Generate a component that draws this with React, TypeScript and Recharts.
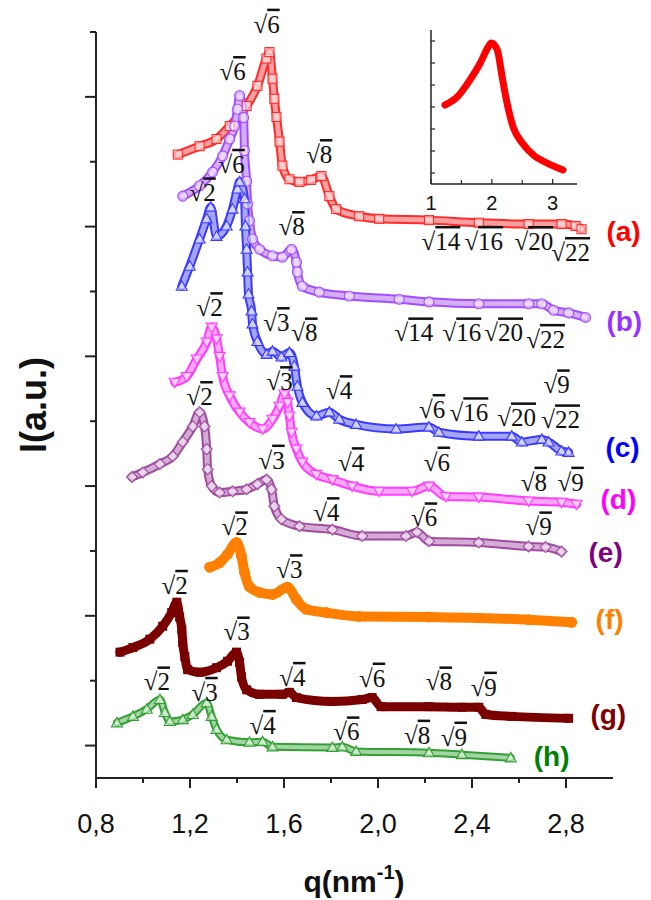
import React from "react";
import { ComposedChart, LineChart, Line, Scatter, XAxis, YAxis } from "recharts";

type Pt = [number, number];

// axes
const xTicks = [0.8, 1.0, 1.2, 1.4, 1.6, 1.8, 2.0, 2.2, 2.4, 2.6, 2.8];
const xTickLabels = ["0,8", "", "1,2", "", "1,6", "", "2,0", "", "2,4", "", "2,8"];
const yTicks = [0, 1, 2, 3, 4, 5, 6, 7, 8, 9, 10, 11];

// SAXS curves, q (nm-1) vs shifted intensity
const seriesA: Pt[] = [
  [1.148, 9.11], [1.241, 9.24], [1.313, 9.35], [1.369, 9.55], [1.441, 9.86], [1.487, 10.17],
  [1.525, 10.59], [1.538, 10.69], [1.551, 10.28], [1.559, 9.97], [1.568, 9.69], [1.581, 9.31],
  [1.593, 8.94], [1.623, 8.73], [1.666, 8.69], [1.716, 8.72], [1.759, 8.78], [1.793, 8.47],
  [1.822, 8.27], [1.92, 8.16], [2.005, 8.12], [2.217, 8.1], [2.429, 8.06], [2.641, 8.04],
  [2.781, 8.04], [2.841, 8.01], [2.866, 7.96],
];
const seriesB: Pt[] = [
  [1.169, 8.47], [1.241, 8.63], [1.296, 8.84], [1.339, 9.09], [1.369, 9.35], [1.39, 9.55],
  [1.402, 9.81], [1.411, 10.02], [1.428, 9.68], [1.432, 9.17], [1.441, 8.7], [1.445, 8.35],
  [1.453, 8.09], [1.466, 7.81], [1.496, 7.65], [1.551, 7.55], [1.593, 7.53], [1.632, 7.65],
  [1.653, 7.45], [1.657, 7.3], [1.678, 7.08], [1.75, 6.99], [1.878, 6.93], [2.09, 6.88],
  [2.217, 6.84], [2.429, 6.81], [2.641, 6.81], [2.697, 6.81], [2.747, 6.71], [2.811, 6.67],
  [2.883, 6.6],
];
const seriesC: Pt[] = [
  [1.165, 7.08], [1.199, 7.39], [1.241, 7.81], [1.271, 8.12], [1.288, 8.3], [1.313, 7.85],
  [1.356, 8.01], [1.381, 8.27], [1.402, 8.58], [1.411, 8.69], [1.432, 8.43], [1.436, 8.01],
  [1.441, 7.65], [1.445, 7.3], [1.449, 6.96], [1.462, 6.7], [1.466, 6.5], [1.487, 6.23],
  [1.526, 6.03], [1.551, 6.08], [1.589, 5.99], [1.623, 6.06], [1.644, 5.85], [1.657, 5.54],
  [1.678, 5.29], [1.738, 5.08], [1.793, 5.14], [1.835, 5.03], [1.907, 4.95], [2.077, 4.88],
  [2.217, 4.91], [2.259, 4.83], [2.429, 4.77], [2.569, 4.77], [2.612, 4.68], [2.697, 4.72],
  [2.726, 4.68], [2.781, 4.54], [2.811, 4.52],
];
const seriesD: Pt[] = [
  [1.135, 5.6], [1.186, 5.69], [1.229, 5.96], [1.271, 6.22], [1.292, 6.45], [1.313, 6.27],
  [1.326, 6.0], [1.339, 5.69], [1.369, 5.39], [1.411, 5.14], [1.453, 4.98], [1.509, 4.88],
  [1.551, 5.03], [1.581, 5.23], [1.602, 5.42], [1.615, 5.29], [1.623, 5.08], [1.632, 4.83],
  [1.653, 4.57], [1.678, 4.37], [1.738, 4.18], [1.806, 4.1], [1.89, 4.0], [2.005, 3.92],
  [2.145, 3.92], [2.217, 4.0], [2.289, 3.84], [2.429, 3.83], [2.641, 3.77], [2.781, 3.75],
  [2.845, 3.72],
];
const seriesE: Pt[] = [
  [0.953, 4.14], [0.999, 4.21], [1.072, 4.34], [1.127, 4.46], [1.169, 4.68], [1.212, 4.92],
  [1.241, 5.14], [1.262, 4.92], [1.271, 4.57], [1.275, 4.26], [1.292, 4.0], [1.326, 3.9],
  [1.381, 3.92], [1.441, 3.95], [1.487, 4.03], [1.526, 4.1], [1.547, 3.95], [1.559, 3.69],
  [1.589, 3.49], [1.666, 3.38], [1.806, 3.33], [1.933, 3.23], [2.119, 3.23], [2.166, 3.29],
  [2.217, 3.15], [2.429, 3.13], [2.641, 3.07], [2.713, 3.06], [2.781, 2.99],
];
const seriesF: Pt[] = [
  [1.284, 2.75], [1.326, 2.82], [1.36, 2.95], [1.398, 3.13], [1.419, 2.92], [1.432, 2.67],
  [1.453, 2.45], [1.496, 2.36], [1.551, 2.33], [1.615, 2.44], [1.653, 2.25], [1.695, 2.1],
  [1.78, 2.05], [1.92, 1.99], [2.217, 1.98], [2.641, 1.94], [2.824, 1.9],
];
const seriesG: Pt[] = [
  [0.902, 1.44], [0.957, 1.51], [1.029, 1.64], [1.084, 1.84], [1.122, 2.05], [1.144, 2.21],
  [1.156, 1.98], [1.165, 1.79], [1.169, 1.59], [1.178, 1.37], [1.19, 1.17], [1.241, 1.13],
  [1.313, 1.2], [1.36, 1.3], [1.398, 1.44], [1.411, 1.28], [1.419, 1.06], [1.441, 0.86],
  [1.496, 0.79], [1.593, 0.79], [1.623, 0.82], [1.653, 0.74], [1.806, 0.68], [1.933, 0.71],
  [1.975, 0.74], [2.013, 0.6], [2.217, 0.6], [2.357, 0.59], [2.429, 0.59], [2.459, 0.48],
  [2.569, 0.45], [2.811, 0.42],
];
const seriesH: Pt[] = [
  [0.889, 0.35], [0.957, 0.45], [1.016, 0.56], [1.072, 0.71], [1.093, 0.51], [1.114, 0.37],
  [1.169, 0.4], [1.212, 0.48], [1.271, 0.66], [1.292, 0.45], [1.313, 0.25], [1.356, 0.09],
  [1.453, 0.05], [1.509, 0.06], [1.551, -0.02], [1.806, -0.03], [1.848, -0.02], [1.907, -0.09],
  [2.217, -0.11], [2.357, -0.14], [2.565, -0.19],
];

const seriesTags = ["(a)", "(b)", "(c)", "(d)", "(e)", "(f)", "(g)", "(h)"];
const tagPos: Pt[] = [
  [2.972, 7.92], [2.972, 6.54], [2.968, 4.6], [2.947, 3.8],
  [2.896, 2.98], [2.926, 1.94], [2.904, 0.48], [2.663, -0.17],
];

// peak index labels (sqrt of n), text baseline position
const rootLabels: [number, number, string][] = [
  [1.526, 10.99, "6"], [1.75, 8.98, "8"], [2.268, 7.64, "14"], [2.45, 7.64, "16"], [2.663, 7.64, "20"], [2.82, 7.47, "22"],
  [1.381, 10.26, "6"], [1.632, 7.87, "8"], [2.153, 6.23, "14"], [2.357, 6.23, "16"], [2.535, 6.23, "20"], [2.713, 6.13, "22"],
  [1.254, 8.39, "2"], [1.377, 8.83, "6"], [1.568, 6.39, "3"], [1.687, 6.23, "8"], [1.835, 5.34, "4"], [2.23, 5.05, "6"],
  [2.387, 5.0, "16"], [2.59, 4.92, "20"], [2.76, 5.43, "9"], [2.777, 4.89, "22"],
  [1.284, 6.62, "2"], [1.581, 5.48, "3"], [1.886, 4.23, "4"], [2.251, 4.24, "6"], [2.663, 3.93, "8"], [2.82, 3.93, "9"],
  [1.241, 5.25, "2"], [1.547, 4.27, "3"], [1.78, 3.46, "4"], [2.196, 3.38, "6"], [2.684, 3.24, "9"],
  [1.39, 3.24, "2"], [1.623, 2.58, "3"],
  [1.135, 2.34, "2"], [1.398, 1.62, "3"], [1.636, 0.92, "4"], [1.975, 0.91, "6"], [2.259, 0.85, "8"], [2.45, 0.77, "9"],
  [1.059, 0.85, "2"], [1.262, 0.69, "3"], [1.509, 0.18, "4"], [1.865, 0.08, "6"], [2.166, 0.03, "8"], [2.323, 0.0, "9"],
];

// inset
const insetXTicks = [1, 1.5, 2, 2.5, 3];
const insetXTickLabels = ["1", "", "2", "", "3"];
const insetYTicks = [0, 1, 2, 3, 4, 5, 6];
const insetCurve: Pt[] = [
  [1.23, 3.09], [1.43, 3.45], [1.64, 4.23], [1.81, 5.0], [1.94, 5.73], [1.99, 5.91], [2.09, 5.59],
  [2.17, 4.36], [2.25, 3.18], [2.35, 2.09], [2.5, 1.36], [2.68, 0.82], [2.91, 0.45], [3.17, 0.14],
];

const SANS = "'Liberation Sans', Arial, sans-serif";
const SERIF = "'Liberation Serif', 'Times New Roman', serif";
const AXIS = "#222";

const rows = (pts: Pt[]) => pts.map(([q, v]) => ({ q, v }));

const SERIES = [
  { id: "a", pts: seriesA, color: "#ff2b2b", tag: "#ff0000", marker: "square", w: 9 },
  { id: "b", pts: seriesB, color: "#a24dff", tag: "#9933ff", marker: "circle", w: 9 },
  { id: "c", pts: seriesC, color: "#3a3aff", tag: "#0000ff", marker: "tri", w: 9 },
  { id: "d", pts: seriesD, color: "#ff3cff", tag: "#ff00ff", marker: "triDown", w: 9 },
  { id: "e", pts: seriesE, color: "#a04aa0", tag: "#800080", marker: "diamond", w: 9 },
  { id: "f", pts: seriesF, color: "#ff8000", tag: "#ff8000", marker: "dot", w: 10 },
  { id: "g", pts: seriesG, color: "#7a0000", tag: "#800000", marker: "fsquare", w: 9 },
  { id: "h", pts: seriesH, color: "#33a033", tag: "#008000", marker: "tri", w: 8 },
];

function Marker({ cx, cy, kind, color }: { cx: number; cy: number; kind: string; color: string }) {
  if (cx == null || cy == null) return null;
  const open = { fill: "#fff", fillOpacity: 0.5, stroke: color, strokeWidth: 1.1 };
  switch (kind) {
    case "square":
      return <rect x={cx - 4.5} y={cy - 4.5} width={9} height={9} {...open} />;
    case "circle":
      return <circle cx={cx} cy={cy} r={5} {...open} />;
    case "tri":
      return <path d={`M${cx},${cy - 5.5}L${cx + 5.5},${cy + 4}L${cx - 5.5},${cy + 4}Z`} {...open} />;
    case "triDown":
      return <path d={`M${cx},${cy + 5.5}L${cx + 5.5},${cy - 4}L${cx - 5.5},${cy - 4}Z`} {...open} />;
    case "diamond":
      return <path d={`M${cx},${cy - 5.5}L${cx + 5.5},${cy}L${cx},${cy + 5.5}L${cx - 5.5},${cy}Z`} {...open} />;
    case "dot":
      return <circle cx={cx} cy={cy} r={5.5} fill={color} />;
    default:
      return <rect x={cx - 4.5} y={cy - 4.5} width={9} height={9} fill={color} />;
  }
}

const renderXTick = (p: any) => {
  const major = p.index % 2 === 0;
  return (
    <g>
      <line x1={p.x} x2={p.x} y1={p.y} y2={p.y + (major ? 10 : 5)} stroke={AXIS} strokeWidth={2} />
      <text x={p.x} y={p.y + 55} textAnchor="middle" fontFamily={SANS} fontSize={27} fill="#111">
        {xTickLabels[p.index]}
      </text>
    </g>
  );
};

const renderYTick = (p: any) => {
  const major = p.payload.value % 2 === 0;
  return <line x1={p.x} x2={p.x - (major ? 11 : 6)} y1={p.y} y2={p.y} stroke={AXIS} strokeWidth={2} />;
};

const renderInsetXTick = (p: any) => (
  <g>
    <line x1={p.x} x2={p.x} y1={p.y} y2={p.y - (p.index % 2 === 0 ? 5 : 4)} stroke={AXIS} strokeWidth={1.2} />
    <text x={p.x} y={p.y + 26} textAnchor="middle" fontFamily={SANS} fontSize={20} fill="#111">
      {insetXTickLabels[p.index]}
    </text>
  </g>
);

const renderInsetYTick = (p: any) => (
  <line x1={p.x} x2={p.x + 4} y1={p.y} y2={p.y} stroke={AXIS} strokeWidth={1.2} />
);

const RootShape = (p: any) => (
  <text x={p.cx} y={p.cy} textAnchor="middle" fontFamily={SERIF} fontSize={25} fill="#111">
    √<tspan style={{ textDecoration: "overline" }}>{p.payload.n}</tspan>
  </text>
);

const TagShape = (p: any) => (
  <text x={p.cx} y={p.cy} dominantBaseline="central" fontFamily={SANS} fontWeight="bold" fontSize={28} fill={p.payload.color}>
    {p.payload.label}
  </text>
);

export default function App() {
  const rootRows = rootLabels.map(([q, v, n]) => ({ q, v, n }));
  const tagRows = tagPos.map(([q, v], i) => ({ q, v, label: seriesTags[i], color: SERIES[i].tag }));

  return (
    <div style={{ position: "absolute", left: 0, top: 0, width: 651, height: 900, background: "#fff" }}>
      <ComposedChart width={651} height={900} margin={{ top: 32, right: 38, bottom: 62, left: 36 }}>
        <XAxis
          type="number" dataKey="q" domain={[0.8, 3.0]} ticks={xTicks} interval={0}
          tickSize={0} tickMargin={0} tickLine={false} tick={renderXTick} height={60}
          axisLine={{ stroke: AXIS, strokeWidth: 2 }}
        />
        <YAxis
          type="number" dataKey="v" domain={[-0.5, 11]} ticks={yTicks} interval={0}
          tickSize={0} tickMargin={0} tickLine={false} tick={renderYTick} width={60}
          axisLine={{ stroke: AXIS, strokeWidth: 2 }}
        />
        {SERIES.flatMap((s) => {
          const filled = s.marker === "dot" || s.marker === "fsquare";
          const dot = (p: any) => <Marker key={`${s.id}-${p.index}`} cx={p.cx} cy={p.cy} kind={s.marker} color={s.color} />;
          const out = [
            <Line
              key={s.id + "-band"} data={rows(s.pts)} dataKey="v" type="monotone" stroke={s.color}
              strokeWidth={s.w} strokeLinejoin="round" strokeLinecap="round"
              dot={filled ? dot : false} activeDot={false} isAnimationActive={false}
            />,
          ];
          if (!filled) {
            out.push(
              <Line
                key={s.id + "-inner"} data={rows(s.pts)} dataKey="v" type="monotone" stroke="#fff"
                strokeOpacity={0.55} strokeWidth={s.w - 4} strokeLinejoin="round" strokeLinecap="round"
                dot={dot} activeDot={false} isAnimationActive={false}
              />
            );
          }
          return out;
        })}
        <Scatter data={rootRows} dataKey="v" shape={RootShape} isAnimationActive={false} />
        <Scatter data={tagRows} dataKey="v" shape={TagShape} isAnimationActive={false} />
      </ComposedChart>

      <div style={{ position: "absolute", left: 400, top: 20 }}>
        <LineChart width={200} height={210} margin={{ top: 10, right: 23, bottom: 16, left: 21 }}>
          <XAxis
            type="number" dataKey="q" domain={[1, 3.4]} ticks={insetXTicks} interval={0}
            tickSize={0} tickMargin={0} tickLine={false} tick={renderInsetXTick} height={30}
            axisLine={{ stroke: AXIS, strokeWidth: 1.5 }}
          />
          <YAxis
            type="number" dataKey="v" domain={[-0.5, 6.5]} ticks={insetYTicks} interval={0}
            tickSize={0} tickMargin={0} tickLine={false} tick={renderInsetYTick} width={10}
            axisLine={{ stroke: AXIS, strokeWidth: 1.5 }}
          />
          <Line
            data={rows(insetCurve)} dataKey="v" type="monotone" stroke="#ff0000" strokeWidth={7}
            strokeLinecap="round" strokeLinejoin="round" dot={false} activeDot={false} isAnimationActive={false}
          />
        </LineChart>
      </div>

      <svg width={651} height={900} style={{ position: "absolute", left: 0, top: 0, pointerEvents: "none" }}>
        <text
          transform="translate(33,405) rotate(-90)" textAnchor="middle" dominantBaseline="central"
          fontFamily={SANS} fontWeight="bold" fontSize={36} fill="#111"
        >
          I(a.u.)
        </text>
        <text x={354} y={892} textAnchor="middle" fontFamily={SANS} fontWeight="bold" fontSize={30} fill="#111">
          q(nm<tspan dy={-13} fontSize={20}>-1</tspan><tspan dy={13}>)</tspan>
        </text>
      </svg>
    </div>
  );
}
